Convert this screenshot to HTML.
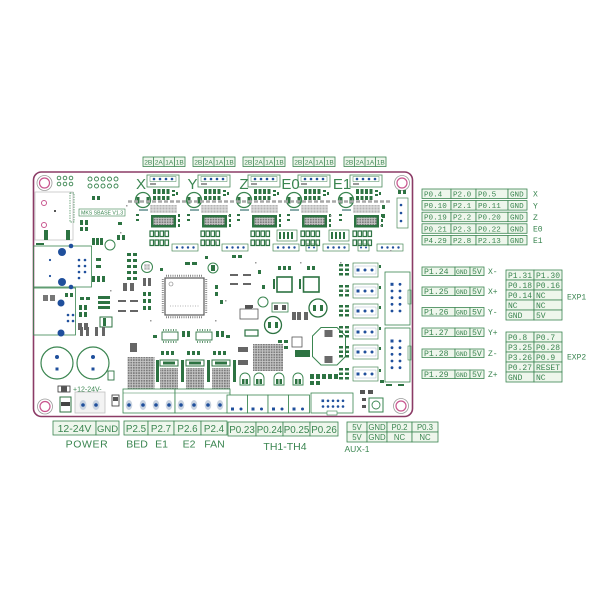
<!DOCTYPE html>
<html><head><meta charset="utf-8">
<style>
html,body{margin:0;padding:0;background:#fff;}
svg{display:block;}
.t{font-family:"Liberation Sans",sans-serif;fill:#3a8550;}
.m{font-family:"Liberation Mono",monospace;fill:#3a8550;}
.c{fill:#eef6ec;stroke:#3a8550;stroke-width:0.8;}
</style></head><body>
<svg width="600" height="600" viewBox="0 0 600 600" xmlns="http://www.w3.org/2000/svg">
<defs>
<pattern id="grid" width="2.6" height="2.6" patternUnits="userSpaceOnUse"><rect width="2.6" height="2.6" fill="#c8c8c8"/><rect x="0.4" y="0.4" width="1.7" height="1.7" fill="#7a7a7a"/></pattern>
<pattern id="lgrid" width="3" height="3" patternUnits="userSpaceOnUse"><rect width="3" height="3" fill="#e4e4e4"/><rect x="0.5" y="0.5" width="2" height="2" fill="#b5b5b5"/></pattern>
<g id="drv">
 <rect x="147" y="175" width="32" height="12" fill="none" stroke="#4a8a5a" stroke-width="0.8"/>
 <rect x="150" y="176.5" width="26" height="5" fill="none" stroke="#4a8a5a" stroke-width="0.5"/>
 <circle cx="154" cy="179" r="1.3" fill="#1f4f9c"/><circle cx="160" cy="179" r="1.3" fill="#1f4f9c"/>
 <circle cx="166" cy="179" r="1.3" fill="#1f4f9c"/><circle cx="172" cy="179" r="1.3" fill="#1f4f9c"/>
 <rect x="150" y="183" width="6" height="2" fill="#9a9a9a"/>
 <circle cx="143" cy="200" r="7.5" fill="#fff" stroke="#3a8550" stroke-width="1.3"/>
 <rect x="136.5" y="197" width="3" height="6.5" fill="#2d7342"/>
 <rect x="146.5" y="197" width="3" height="6.5" fill="#2d7342"/>
 <rect x="139" y="209" width="9" height="2" fill="#8aa"/>
 <g fill="#2d7342">
  <rect x="153" y="189" width="3" height="5"/><rect x="157.5" y="189" width="3" height="5"/><rect x="162" y="189" width="3" height="5"/><rect x="166.5" y="189" width="3" height="5"/>
  <rect x="153" y="196" width="3" height="4"/><rect x="157.5" y="196" width="3" height="4"/><rect x="162" y="196" width="3" height="4"/><rect x="166.5" y="196" width="3" height="4"/>
  <rect x="172" y="190" width="3" height="2"/><rect x="172" y="194" width="3" height="2"/><rect x="176" y="192" width="2" height="3"/>
  <rect x="178" y="214" width="2" height="3"/><rect x="178" y="219" width="2" height="3"/><rect x="178" y="224" width="2" height="3"/>
  <rect x="136" y="214" width="3" height="2"/><rect x="136" y="219" width="3" height="2"/>
 </g>
 <rect x="150" y="205" width="27" height="8" fill="url(#lgrid)"/>
 <rect x="151" y="215" width="25" height="12.5" fill="#2d7342"/>
 <rect x="153.5" y="217.5" width="20" height="7.5" fill="url(#grid)"/>
 <g fill="#fff" stroke="#2d7342" stroke-width="1.2">
  <rect x="150" y="231" width="3.5" height="5.5"/><rect x="155" y="231" width="3.5" height="5.5"/><rect x="160" y="231" width="3.5" height="5.5"/><rect x="165" y="231" width="3.5" height="5.5"/>
  <rect x="150" y="240" width="3.5" height="5.5"/><rect x="155" y="240" width="3.5" height="5.5"/><rect x="160" y="240" width="3.5" height="5.5"/><rect x="165" y="240" width="3.5" height="5.5"/>
 </g>
</g>
<g id="hdr">
 <rect x="0" y="0" width="26" height="7" fill="#fff" stroke="#4a8a5a" stroke-width="0.7"/>
 <circle cx="5" cy="3.5" r="1.2" fill="#1f4f9c"/><circle cx="10.5" cy="3.5" r="1.2" fill="#1f4f9c"/><circle cx="16" cy="3.5" r="1.2" fill="#1f4f9c"/><circle cx="21.5" cy="3.5" r="1.2" fill="#1f4f9c"/>
</g>
<g id="endc">
 <rect x="0" y="0" width="25" height="14" fill="#fff" stroke="#4a8a5a" stroke-width="0.7"/>
 <rect x="2" y="3" width="21" height="8" fill="none" stroke="#9ab" stroke-width="0.4"/>
 <rect x="3.5" y="5.5" width="3" height="3" fill="#1f4f9c"/><circle cx="12" cy="7" r="1.5" fill="#1f4f9c"/><circle cx="19" cy="7" r="1.5" fill="#1f4f9c"/>
 <g fill="#2d7342"><rect x="-14" y="1" width="4" height="2.5"/><rect x="-8" y="1" width="4" height="2.5"/><rect x="-14" y="5.5" width="4" height="2.5"/><rect x="-8" y="5.5" width="4" height="2.5"/><rect x="-14" y="10" width="4" height="2.5"/><rect x="-8" y="10" width="4" height="2.5"/></g>
 <rect x="26" y="2" width="2" height="3" fill="#2d7342"/>
</g>
<g id="capb">
 <path d="M0,12 v-7 a5,5 0 0 1 10,0 v7 z" fill="#fff" stroke="#3a8550" stroke-width="0.9"/>
 <rect x="2" y="6" width="2.5" height="5" fill="#2d7342"/><rect x="5.5" y="6" width="2.5" height="5" fill="#2d7342"/>
</g>
</defs>

<rect width="600" height="600" fill="#fff"/>

<!-- top header boxes -->
<g>
<rect class="c" x="143" y="157" width="42" height="9.5"/>
<rect class="c" x="193" y="157" width="42" height="9.5"/>
<rect class="c" x="243" y="157" width="42" height="9.5"/>
<rect class="c" x="293" y="157" width="42" height="9.5"/>
<rect class="c" x="344" y="157" width="42" height="9.5"/>
<g stroke="#3a8550" stroke-width="0.8">
<line x1="153.5" y1="157" x2="153.5" y2="166.5"/><line x1="164" y1="157" x2="164" y2="166.5"/><line x1="174.5" y1="157" x2="174.5" y2="166.5"/>
<line x1="203.5" y1="157" x2="203.5" y2="166.5"/><line x1="214" y1="157" x2="214" y2="166.5"/><line x1="224.5" y1="157" x2="224.5" y2="166.5"/>
<line x1="253.5" y1="157" x2="253.5" y2="166.5"/><line x1="264" y1="157" x2="264" y2="166.5"/><line x1="274.5" y1="157" x2="274.5" y2="166.5"/>
<line x1="303.5" y1="157" x2="303.5" y2="166.5"/><line x1="314" y1="157" x2="314" y2="166.5"/><line x1="324.5" y1="157" x2="324.5" y2="166.5"/>
<line x1="354.5" y1="157" x2="354.5" y2="166.5"/><line x1="365" y1="157" x2="365" y2="166.5"/><line x1="375.5" y1="157" x2="375.5" y2="166.5"/>
</g>
<g class="t" font-size="6.6" text-anchor="middle">
<text x="148.3" y="164.3">2B</text><text x="158.8" y="164.3">2A</text><text x="169.3" y="164.3">1A</text><text x="179.8" y="164.3">1B</text>
<text x="198.3" y="164.3">2B</text><text x="208.8" y="164.3">2A</text><text x="219.3" y="164.3">1A</text><text x="229.8" y="164.3">1B</text>
<text x="248.3" y="164.3">2B</text><text x="258.8" y="164.3">2A</text><text x="269.3" y="164.3">1A</text><text x="279.8" y="164.3">1B</text>
<text x="298.3" y="164.3">2B</text><text x="308.8" y="164.3">2A</text><text x="319.3" y="164.3">1A</text><text x="329.8" y="164.3">1B</text>
<text x="349.3" y="164.3">2B</text><text x="359.8" y="164.3">2A</text><text x="370.3" y="164.3">1A</text><text x="380.8" y="164.3">1B</text>
</g>
</g>

<!-- board -->
<rect x="33.5" y="172" width="379" height="244.5" rx="8" fill="#fff" stroke="#8b3b66" stroke-width="1.6"/>

<!-- holes -->
<g fill="none">
<circle cx="44.5" cy="183" r="7.5" stroke="#9a9a9a" stroke-width="0.8"/><circle cx="44.5" cy="183" r="5" stroke="#c8558e" stroke-width="1.2"/>
<circle cx="402" cy="183" r="7.5" stroke="#9a9a9a" stroke-width="0.8"/><circle cx="402" cy="183" r="5" stroke="#c8558e" stroke-width="1.2"/>
<circle cx="45" cy="406.5" r="7.5" stroke="#9a9a9a" stroke-width="0.8"/><circle cx="45" cy="406.5" r="5" stroke="#c8558e" stroke-width="1.2"/>
<circle cx="401" cy="406" r="7.5" stroke="#9a9a9a" stroke-width="0.8"/><circle cx="401" cy="406" r="5" stroke="#c8558e" stroke-width="1.2"/>
</g>

<!-- drivers -->
<use href="#drv"/>
<use href="#drv" transform="translate(51,0)"/>
<use href="#drv" transform="translate(101,0)"/>
<use href="#drv" transform="translate(151,0)"/>
<use href="#drv" transform="translate(203,0)"/>
<line x1="128" y1="201.5" x2="392" y2="201.5" stroke="#a8a8a8" stroke-width="2.6" stroke-dasharray="4 2"/>
<g class="t" font-size="15" text-anchor="middle" fill="#3a8a50">
<text x="141" y="189">X</text><text x="192.5" y="189">Y</text><text x="244" y="189">Z</text><text x="290.5" y="189">E0</text><text x="342" y="189">E1</text>
</g>

<!-- driver bottom headers -->
<use href="#hdr" transform="translate(172,244)"/>
<use href="#hdr" transform="translate(222,244)"/>
<use href="#hdr" transform="translate(273,244)"/>
<use href="#hdr" transform="translate(323,244)"/>
<use href="#hdr" transform="translate(377,244)"/>
<g fill="none" stroke="#4a8a5a" stroke-width="0.7">
<rect x="306" y="244" width="11" height="7"/><rect x="358" y="244" width="11" height="7"/>
<rect x="277" y="230" width="20" height="11"/><rect x="329" y="230" width="20" height="11"/>
<rect x="397" y="198" width="11" height="30"/>
</g>
<g fill="#1f4f9c"><circle cx="401" cy="205" r="1.3"/><circle cx="401" cy="213" r="1.3"/><circle cx="401" cy="221" r="1.3"/><circle cx="309" cy="247.5" r="1"/><circle cx="314" cy="247.5" r="1"/><circle cx="361" cy="247.5" r="1"/><circle cx="366" cy="247.5" r="1"/></g>
<g fill="#2d7342">
<rect x="279" y="232" width="2" height="7"/><rect x="283" y="232" width="2" height="7"/><rect x="287" y="232" width="2" height="7"/><rect x="291" y="232" width="2" height="7"/>
<rect x="331" y="232" width="2" height="7"/><rect x="335" y="232" width="2" height="7"/><rect x="339" y="232" width="2" height="7"/><rect x="343" y="232" width="2" height="7"/>
<rect x="398" y="190" width="3" height="4"/><rect x="403" y="190" width="3" height="4"/><rect x="382" y="205" width="3" height="4"/><rect x="382" y="214" width="3" height="4"/>
</g>

<!-- top-left headers -->
<g fill="none" stroke="#3a8550" stroke-width="0.9">
<circle cx="59" cy="178" r="1.8"/><circle cx="65" cy="178" r="1.8"/><circle cx="71" cy="178" r="1.8"/>
<circle cx="59" cy="184" r="1.8"/><circle cx="65" cy="184" r="1.8"/><circle cx="71" cy="184" r="1.8"/>
<circle cx="90" cy="179" r="2"/><circle cx="96.5" cy="179" r="2"/><circle cx="103" cy="179" r="2"/><circle cx="109.5" cy="179" r="2"/><circle cx="116" cy="179" r="2"/>
<circle cx="90" cy="186" r="2"/><circle cx="96.5" cy="186" r="2"/><circle cx="103" cy="186" r="2"/><circle cx="109.5" cy="186" r="2"/><circle cx="116" cy="186" r="2"/>
</g>

<!-- USB -->
<rect x="35" y="192" width="38" height="48" fill="none" stroke="#c4c4c4" stroke-width="0.8"/>
<circle cx="44" cy="203" r="2.5" fill="none" stroke="#c8558e" stroke-width="1"/>
<circle cx="44" cy="225" r="2.5" fill="none" stroke="#c8558e" stroke-width="1"/>
<rect x="54" y="210" width="2" height="2" fill="#555"/>
<rect x="70" y="193" width="4" height="29" fill="none" stroke="#3a8550" stroke-width="0.7" stroke-dasharray="1.5 1"/>
<rect x="44" y="230" width="4" height="10" fill="#2d7342"/><rect x="66" y="230" width="4" height="10" fill="#2d7342"/>
<rect x="79" y="209" width="46" height="7" fill="none" stroke="#3a8550" stroke-width="0.6"/>
<text x="81" y="214.7" class="t" font-size="5.2">MKS SBASE V1.3</text>
<g fill="#2d7342"><rect x="80" y="220" width="3" height="5"/><rect x="85" y="220" width="3" height="5"/><rect x="80" y="227" width="3" height="4"/><rect x="85" y="227" width="3" height="4"/>
<rect x="117" y="235" width="3" height="5"/><rect x="122" y="235" width="3" height="5"/><rect x="92" y="196" width="3" height="4"/><rect x="97" y="196" width="3" height="4"/><rect x="118" y="222" width="4" height="3"/></g>

<!-- SD / ethernet area -->
<rect x="33.5" y="246" width="58" height="41" fill="none" stroke="#3a8550" stroke-width="0.8"/>
<rect x="33.5" y="288" width="42" height="47" fill="none" stroke="#3a8550" stroke-width="0.8"/>
<g fill="#1f4f9c">
<circle cx="62" cy="252" r="4"/><circle cx="62" cy="282" r="4"/>
<circle cx="71" cy="246" r="2.3"/><circle cx="71" cy="287" r="2.3"/>
<circle cx="79" cy="260" r="1.3"/><circle cx="85" cy="260" r="1.3"/><circle cx="79" cy="266" r="1.3"/><circle cx="85" cy="266" r="1.3"/><circle cx="79" cy="272" r="1.3"/><circle cx="85" cy="272" r="1.3"/><circle cx="79" cy="278" r="1.3"/>
<circle cx="50" cy="260" r="1.1"/><circle cx="50" cy="276" r="1.1"/>
<circle cx="61" cy="303" r="3.5"/><circle cx="61" cy="333" r="3.5"/>
<circle cx="68" cy="315" r="1.3"/><circle cx="73" cy="315" r="1.3"/><circle cx="68" cy="321" r="1.3"/><circle cx="73" cy="321" r="1.3"/>
</g>
<g fill="#777"><rect x="43" y="295" width="5" height="6"/><rect x="50" y="295" width="5" height="6"/></g>
<g fill="#2d7342"><rect x="65" y="293" width="3" height="4"/><rect x="70" y="293" width="3" height="4"/><rect x="36" y="243" width="8" height="2"/></g>

<!-- left-middle small parts -->
<g fill="#2d7342">
<rect x="92" y="238" width="3" height="7"/><rect x="96" y="238" width="3" height="7"/><rect x="100" y="238" width="3" height="7"/>
<rect x="127" y="253" width="4" height="3"/><rect x="133" y="253" width="4" height="3"/><rect x="127" y="259" width="4" height="3"/><rect x="133" y="259" width="4" height="3"/><rect x="127" y="265" width="4" height="3"/><rect x="133" y="265" width="4" height="3"/><rect x="127" y="271" width="4" height="3"/><rect x="133" y="271" width="4" height="3"/><rect x="127" y="277" width="4" height="3"/><rect x="133" y="277" width="4" height="3"/>
<rect x="96" y="258" width="5" height="3"/><rect x="96" y="265" width="5" height="3"/>
<rect x="92" y="276" width="3" height="6"/><rect x="97" y="276" width="3" height="6"/><rect x="102" y="276" width="3" height="6"/>
<rect x="80" y="297" width="4" height="3"/><rect x="86" y="297" width="4" height="3"/>
<rect x="79" y="305" width="3" height="5"/><rect x="84" y="305" width="3" height="5"/><rect x="79" y="312" width="3" height="5"/><rect x="84" y="312" width="3" height="5"/>
<rect x="100" y="317" width="12" height="10" fill="none" stroke="#2d7342" stroke-width="1"/>
<rect x="103" y="318" width="3" height="8"/>
<rect x="185" y="262" width="5" height="3"/><rect x="192" y="262" width="5" height="3"/>
<rect x="232" y="255" width="4" height="3"/><rect x="238" y="255" width="4" height="3"/>
<rect x="160" y="268" width="3" height="3"/><rect x="205" y="256" width="3" height="3"/>
<rect x="143" y="292" width="3" height="4"/><rect x="148" y="292" width="3" height="4"/><rect x="143" y="299" width="3" height="4"/><rect x="148" y="299" width="3" height="4"/><rect x="143" y="306" width="3" height="4"/><rect x="148" y="306" width="3" height="4"/>
<rect x="98" y="296" width="12" height="3"/><rect x="98" y="301" width="12" height="3"/><rect x="98" y="306" width="12" height="3"/>
<rect x="215" y="285" width="3" height="4"/><rect x="215" y="292" width="3" height="4"/><rect x="220" y="300" width="3" height="4"/>
<rect x="258" y="270" width="3" height="4"/><rect x="262" y="285" width="3" height="4"/>
</g>
<circle cx="110" cy="245" r="5" fill="none" stroke="#3a8550" stroke-width="1"/>
<circle cx="147" cy="267" r="5.5" fill="none" stroke="#3a8550" stroke-width="1"/>
<rect x="144" y="264" width="6" height="6" fill="url(#lgrid)"/>
<circle cx="213" cy="268" r="5" fill="none" stroke="#3a8550" stroke-width="1"/>
<rect x="211" y="265" width="4" height="6" fill="#2d7342"/>
<circle cx="263" cy="302" r="5" fill="none" stroke="#3a8550" stroke-width="1"/>
<g fill="#666">
<rect x="123" y="283" width="4" height="8"/><rect x="130" y="283" width="4" height="8"/>
<rect x="143" y="278" width="3" height="8"/><rect x="148" y="278" width="3" height="8"/>
<rect x="118" y="300" width="8" height="2"/><rect x="130" y="300" width="8" height="2"/><rect x="118" y="310" width="8" height="2"/><rect x="130" y="310" width="8" height="2"/>
<rect x="230" y="274" width="8" height="2"/><rect x="243" y="274" width="8" height="2"/><rect x="230" y="283" width="8" height="2"/><rect x="243" y="283" width="8" height="2"/>
<rect x="78" y="323" width="4" height="7"/><rect x="84" y="323" width="4" height="7"/>
<rect x="80" y="327" width="3" height="9"/><rect x="86" y="327" width="3" height="9"/><rect x="95" y="327" width="3" height="9"/><rect x="102" y="327" width="3" height="9"/>
<rect x="130" y="343" width="7" height="9"/>
<rect x="238" y="347" width="10" height="5"/><rect x="238" y="360" width="10" height="5"/>
<rect x="245" y="305" width="7" height="7"/>
<rect x="292" y="312" width="4" height="8"/><rect x="297" y="312" width="4" height="8"/><rect x="304" y="312" width="4" height="8"/>
</g>

<!-- MCU -->
<rect x="165" y="278" width="39" height="37" fill="#fff" stroke="#5a5a5a" stroke-width="1.2"/>
<g stroke="#6a6a6a" stroke-width="2" stroke-dasharray="0.8 1.4">
<line x1="166" y1="275.8" x2="203" y2="275.8"/><line x1="166" y1="317.2" x2="203" y2="317.2"/>
<line x1="162.8" y1="279" x2="162.8" y2="314"/><line x1="206.2" y1="279" x2="206.2" y2="314"/>
</g>
<circle cx="171" cy="284" r="2" fill="none" stroke="#777" stroke-width="0.6"/>
<line x1="170" y1="306" x2="200" y2="306" stroke="#9a9a9a" stroke-width="0.8" stroke-dasharray="1 1.5"/>

<!-- inductors / misc middle -->
<rect x="277" y="277" width="15" height="15" fill="#fff" stroke="#2d7342" stroke-width="1.6"/>
<rect x="303.5" y="277" width="15.5" height="15" fill="#fff" stroke="#2d7342" stroke-width="1.6"/>
<g fill="#2d7342">
<rect x="278" y="266" width="3" height="4"/><rect x="283" y="266" width="3" height="4"/><rect x="288" y="266" width="3" height="4"/>
<rect x="307" y="266" width="3" height="4"/><rect x="312" y="266" width="3" height="4"/>
<rect x="273" y="279" width="2" height="10"/><rect x="299" y="279" width="2" height="10"/>
</g>
<circle cx="318" cy="308" r="9" fill="#fff" stroke="#2d7342" stroke-width="1.3"/>
<rect x="313" y="305" width="3" height="6" fill="#2d7342"/><rect x="320" y="305" width="3" height="6" fill="#2d7342"/>
<circle cx="273" cy="325" r="8.5" fill="#fff" stroke="#2d7342" stroke-width="1.3"/>
<rect x="268" y="322" width="3" height="6" fill="#2d7342"/><rect x="275" y="322" width="3" height="6" fill="#2d7342"/>
<rect x="272" y="303" width="16" height="9" fill="#fff" stroke="#3a8550" stroke-width="0.8"/>
<rect x="274" y="305" width="4" height="5" fill="#555"/><rect x="282" y="305" width="4" height="5" fill="#555"/>
<rect x="240" y="309" width="18" height="10" fill="#fff" stroke="#555" stroke-width="0.8"/>
<rect x="245" y="305" width="8" height="3" fill="#555"/>
<rect x="245" y="330" width="13" height="6" fill="#fff" stroke="#2d7342" stroke-width="1.2"/>
<rect x="292" y="337" width="10" height="10" fill="#fff" stroke="#555" stroke-width="0.8"/>
<rect x="295" y="350" width="15" height="7" fill="#2d7342"/>
<g fill="#2d7342"><rect x="278" y="340" width="4" height="3"/><rect x="278" y="346" width="4" height="3"/><rect x="284" y="340" width="4" height="3"/><rect x="284" y="346" width="4" height="3"/></g>

<!-- octagon cap -->
<polygon points="321,327.5 337,327.5 345.5,336 345.5,356.5 337,365 321,365 312.5,356.5 312.5,336" fill="#fff" stroke="#3a8550" stroke-width="1"/>
<rect x="324.5" y="330" width="8" height="7" fill="#6a6a6a"/><rect x="324.5" y="356" width="8" height="7" fill="#6a6a6a"/>

<!-- SOIC chips -->
<g>
<rect x="162" y="332" width="16" height="8" fill="#fff" stroke="#2d7342" stroke-width="0.9"/>
<rect x="196" y="332" width="16" height="8" fill="#fff" stroke="#2d7342" stroke-width="0.9"/>
<g stroke="#2d7342" stroke-width="1.4" stroke-dasharray="1 1.5">
<line x1="163" y1="330" x2="177" y2="330"/><line x1="163" y1="342" x2="177" y2="342"/>
<line x1="197" y1="330" x2="211" y2="330"/><line x1="197" y1="342" x2="211" y2="342"/>
</g>
<g fill="#2d7342">
<rect x="153" y="335" width="4" height="3"/><rect x="182" y="331" width="3" height="6"/><rect x="187" y="331" width="3" height="6"/>
<rect x="216" y="331" width="3" height="6"/><rect x="221" y="331" width="3" height="6"/><rect x="226" y="335" width="4" height="3"/>
<rect x="161" y="351" width="3" height="4"/><rect x="166" y="351" width="3" height="4"/><rect x="171" y="351" width="3" height="4"/>
<rect x="187" y="351" width="3" height="4"/><rect x="192" y="351" width="3" height="4"/><rect x="197" y="351" width="3" height="4"/>
<rect x="213" y="351" width="3" height="4"/><rect x="218" y="351" width="3" height="4"/><rect x="223" y="351" width="3" height="4"/>
<rect x="156" y="360" width="3" height="22"/><rect x="181" y="360" width="3" height="22"/><rect x="207" y="360" width="3" height="22"/><rect x="233" y="360" width="3" height="22"/>
</g>
</g>

<!-- big gray chips -->
<rect x="127.5" y="357" width="27" height="33" fill="url(#grid)"/>
<rect x="160" y="360" width="18" height="6" fill="#fff" stroke="#2d7342" stroke-width="1"/>
<rect x="163" y="361.5" width="12" height="3" fill="#2d7342"/>
<rect x="160" y="368" width="18" height="22" fill="url(#grid)"/>
<rect x="186" y="360" width="18" height="6" fill="#fff" stroke="#2d7342" stroke-width="1"/>
<rect x="189" y="361.5" width="12" height="3" fill="#2d7342"/>
<rect x="186" y="368" width="18" height="22" fill="url(#grid)"/>
<rect x="212" y="360" width="18" height="6" fill="#fff" stroke="#2d7342" stroke-width="1"/>
<rect x="215" y="361.5" width="12" height="3" fill="#2d7342"/>
<rect x="212" y="368" width="18" height="22" fill="url(#grid)"/>
<rect x="253" y="344" width="30" height="27" fill="url(#grid)"/>

<!-- big caps bottom left -->
<circle cx="57" cy="363" r="16" fill="#fff" stroke="#3a8550" stroke-width="1.2"/>
<circle cx="93" cy="363" r="16" fill="#fff" stroke="#3a8550" stroke-width="1.2"/>
<g fill="#1f4f9c"><circle cx="57" cy="357" r="2"/><rect x="55.5" y="367.5" width="3" height="3"/><circle cx="93" cy="357" r="2"/><rect x="91.5" y="367.5" width="3" height="3"/></g>
<text x="73" y="391.5" class="t" font-size="7">+12-24V-</text>
<rect x="58" y="386" width="12" height="6" fill="#fff" stroke="#333" stroke-width="0.8"/><rect x="61" y="386.5" width="6" height="5" fill="#555"/>
<rect x="60" y="397" width="11" height="15" fill="#fff" stroke="#2d7342" stroke-width="1"/><rect x="61" y="402" width="9" height="4" fill="#444"/>
<rect x="108" y="371" width="6" height="9" fill="#fff" stroke="#2d7342" stroke-width="0.9"/>
<rect x="112" y="395" width="7" height="11" fill="#fff" stroke="#333" stroke-width="0.8"/><rect x="113" y="397" width="5" height="4" fill="#555"/>

<!-- power connector -->
<rect x="75" y="392" width="30" height="21" fill="#f3f3f3" stroke="#c0c0c0" stroke-width="0.8"/>
<ellipse cx="83" cy="405" rx="3.5" ry="5" fill="#c9d3e0"/><circle cx="83" cy="405" r="1.8" fill="#1f4f9c"/>
<ellipse cx="96" cy="405" rx="3.5" ry="5" fill="#c9d3e0"/><circle cx="96" cy="405" r="1.8" fill="#1f4f9c"/>

<!-- heater/fan connectors -->
<rect x="123" y="389" width="52" height="24" fill="#fff" stroke="#3a8550" stroke-width="0.8"/>
<rect x="175" y="389" width="55" height="24" fill="#fff" stroke="#3a8550" stroke-width="0.8"/>
<line x1="123" y1="393" x2="230" y2="393" stroke="#3a8550" stroke-width="0.5"/>
<g fill="#c9d3e0">
<ellipse cx="129" cy="405" rx="3.3" ry="5"/><ellipse cx="143" cy="405" rx="3.3" ry="5"/><ellipse cx="156" cy="405" rx="3.3" ry="5"/><ellipse cx="169" cy="405" rx="3.3" ry="5"/>
<ellipse cx="181" cy="405" rx="3.3" ry="5"/><ellipse cx="194" cy="405" rx="3.3" ry="5"/><ellipse cx="208" cy="405" rx="3.3" ry="5"/><ellipse cx="220" cy="405" rx="3.3" ry="5"/>
</g>
<g fill="#1f4f9c">
<circle cx="129" cy="405" r="1.8"/><circle cx="143" cy="405" r="1.8"/><circle cx="156" cy="405" r="1.8"/><circle cx="169" cy="405" r="1.8"/>
<circle cx="181" cy="405" r="1.8"/><circle cx="194" cy="405" r="1.8"/><circle cx="208" cy="405" r="1.8"/><circle cx="220" cy="405" r="1.8"/>
</g>

<!-- thermistor caps & connectors -->
<use href="#capb" transform="translate(240,373)"/>
<use href="#capb" transform="translate(254,373)"/>
<use href="#capb" transform="translate(274,373)"/>
<use href="#capb" transform="translate(293,373)"/>
<g fill="#fff" stroke="#3a8550" stroke-width="0.8">
<rect x="227" y="395" width="20.5" height="18"/><rect x="247.5" y="395" width="20.5" height="18"/><rect x="268" y="395" width="20.5" height="18"/><rect x="288.5" y="395" width="21" height="18"/>
</g>
<g fill="#1f4f9c">
<rect x="231" y="407.5" width="3" height="3"/><circle cx="241" cy="409" r="1.5"/>
<rect x="251.5" y="407.5" width="3" height="3"/><circle cx="261.5" cy="409" r="1.5"/>
<rect x="272" y="407.5" width="3" height="3"/><circle cx="282" cy="409" r="1.5"/>
<rect x="292.5" y="407.5" width="3" height="3"/><circle cx="302.5" cy="409" r="1.5"/>
</g>
<g fill="#2d7342"><rect x="310" y="374" width="4" height="5"/><rect x="316" y="374" width="4" height="5"/><rect x="322" y="374" width="4" height="5"/><rect x="328" y="374" width="4" height="5"/><rect x="334" y="374" width="4" height="5"/><rect x="310" y="381" width="4" height="4"/><rect x="316" y="381" width="4" height="4"/></g>

<!-- AUX connector & reset -->
<rect x="311" y="393" width="42" height="20" fill="#fff" stroke="#3a8550" stroke-width="0.8"/>
<rect x="327" y="411" width="10" height="4" fill="#fff" stroke="#3a8550" stroke-width="0.6"/>
<g fill="#1f4f9c">
<rect x="321.5" y="399.5" width="2.6" height="2.6"/><circle cx="328" cy="400.8" r="1.3"/><circle cx="333" cy="400.8" r="1.3"/><circle cx="338" cy="400.8" r="1.3"/><circle cx="343" cy="400.8" r="1.3"/>
<circle cx="323" cy="406.5" r="1.3"/><circle cx="328" cy="406.5" r="1.3"/><circle cx="333" cy="406.5" r="1.3"/><circle cx="338" cy="406.5" r="1.3"/><circle cx="343" cy="406.5" r="1.3"/>
</g>
<rect x="369" y="398" width="14" height="14" fill="#fff" stroke="#3a8550" stroke-width="1"/>
<circle cx="376" cy="405" r="4" fill="none" stroke="#3a8550" stroke-width="0.9"/>
<g fill="#555"><rect x="362" y="398" width="4" height="3"/><rect x="362" y="405" width="4" height="3"/><rect x="360" y="390" width="5" height="4"/><rect x="368" y="390" width="5" height="4"/></g>

<!-- endstop connectors -->
<use href="#endc" transform="translate(353,263)"/>
<use href="#endc" transform="translate(353,284)"/>
<use href="#endc" transform="translate(353,304)"/>
<use href="#endc" transform="translate(353,325)"/>
<use href="#endc" transform="translate(353,345)"/>
<use href="#endc" transform="translate(353,367)"/>

<!-- EXP connectors -->
<rect x="385" y="272" width="25" height="53" fill="#fff" stroke="#3a8550" stroke-width="0.8"/>
<rect x="385" y="328" width="25" height="54" fill="#fff" stroke="#3a8550" stroke-width="0.8"/>
<rect x="408" y="290" width="3" height="14" fill="none" stroke="#3a8550" stroke-width="0.6"/>
<rect x="408" y="346" width="3" height="14" fill="none" stroke="#3a8550" stroke-width="0.6"/>
<g fill="#1f4f9c">
<rect x="390.5" y="282.8" width="3" height="3"/><circle cx="400" cy="284.3" r="1.4"/>
<circle cx="392" cy="291" r="1.4"/><circle cx="400" cy="291" r="1.4"/><circle cx="392" cy="297.7" r="1.4"/><circle cx="400" cy="297.7" r="1.4"/>
<circle cx="392" cy="304.3" r="1.4"/><circle cx="400" cy="304.3" r="1.4"/><circle cx="392" cy="311" r="1.4"/><circle cx="400" cy="311" r="1.4"/>
<rect x="390.5" y="339.5" width="3" height="3"/><circle cx="400" cy="341" r="1.4"/>
<circle cx="392" cy="347.7" r="1.4"/><circle cx="400" cy="347.7" r="1.4"/><circle cx="392" cy="354.3" r="1.4"/><circle cx="400" cy="354.3" r="1.4"/>
<circle cx="392" cy="361" r="1.4"/><circle cx="400" cy="361" r="1.4"/><circle cx="392" cy="367.7" r="1.4"/><circle cx="400" cy="367.7" r="1.4"/>
</g>
<g fill="#2d7342"><rect x="380" y="380" width="4" height="3"/><rect x="386" y="384" width="6" height="2"/><rect x="398" y="384" width="6" height="2"/></g>

<!-- scattered tiny specks -->
<g fill="#9a9a9a">
<rect x="120" y="232" width="1.5" height="1.5"/><rect x="215" y="240" width="1.5" height="1.5"/><rect x="255" y="262" width="1.5" height="1.5"/>
<rect x="300" y="262" width="1.5" height="1.5"/><rect x="340" y="262" width="1.5" height="1.5"/><rect x="225" y="300" width="1.5" height="1.5"/>
<rect x="215" y="320" width="1.5" height="1.5"/><rect x="110" y="290" width="1.5" height="1.5"/><rect x="150" y="320" width="1.5" height="1.5"/>
<rect x="390" y="250" width="1.5" height="1.5"/><rect x="380" y="225" width="1.5" height="1.5"/><rect x="345" y="290" width="1.5" height="1.5"/>
<rect x="228" y="215" width="1.5" height="1.5"/><rect x="330" y="215" width="1.5" height="1.5"/><rect x="126" y="205" width="1.5" height="1.5"/>
</g>

<!-- right pin table -->
<g>
<rect class="c" x="422" y="189" width="29" height="9.5"/><rect class="c" x="451" y="189" width="25" height="9.5"/><rect class="c" x="476" y="189" width="32" height="9.5"/><rect class="c" x="508" y="189" width="19" height="9.5"/>
<rect class="c" x="422" y="200.6" width="29" height="9.5"/><rect class="c" x="451" y="200.6" width="25" height="9.5"/><rect class="c" x="476" y="200.6" width="32" height="9.5"/><rect class="c" x="508" y="200.6" width="19" height="9.5"/>
<rect class="c" x="422" y="212.2" width="29" height="9.5"/><rect class="c" x="451" y="212.2" width="25" height="9.5"/><rect class="c" x="476" y="212.2" width="32" height="9.5"/><rect class="c" x="508" y="212.2" width="19" height="9.5"/>
<rect class="c" x="422" y="223.8" width="29" height="9.5"/><rect class="c" x="451" y="223.8" width="25" height="9.5"/><rect class="c" x="476" y="223.8" width="32" height="9.5"/><rect class="c" x="508" y="223.8" width="19" height="9.5"/>
<rect class="c" x="422" y="235.4" width="29" height="9.5"/><rect class="c" x="451" y="235.4" width="25" height="9.5"/><rect class="c" x="476" y="235.4" width="32" height="9.5"/><rect class="c" x="508" y="235.4" width="19" height="9.5"/>
<g class="m" font-size="7.6">
<text x="424" y="196.5">P0.4</text><text x="453" y="196.5">P2.0</text><text x="478" y="196.5">P0.5</text><text x="510" y="196.5">GND</text>
<text x="424" y="208.1">P0.10</text><text x="453" y="208.1">P2.1</text><text x="478" y="208.1">P0.11</text><text x="510" y="208.1">GND</text>
<text x="424" y="219.7">P0.19</text><text x="453" y="219.7">P2.2</text><text x="478" y="219.7">P0.20</text><text x="510" y="219.7">GND</text>
<text x="424" y="231.3">P0.21</text><text x="453" y="231.3">P2.3</text><text x="478" y="231.3">P0.22</text><text x="510" y="231.3">GND</text>
<text x="424" y="242.9">P4.29</text><text x="453" y="242.9">P2.8</text><text x="478" y="242.9">P2.13</text><text x="510" y="242.9">GND</text>
</g>
<g class="m" font-size="8">
<text x="533" y="196.7">X</text><text x="533" y="208.3">Y</text><text x="533" y="219.9">Z</text><text x="533" y="231.5">E0</text><text x="533" y="243.1">E1</text>
</g>
</g>

<!-- endstop table -->
<g>
<rect class="c" x="422" y="267" width="33" height="8.5"/><rect class="c" x="455" y="267" width="15" height="8.5"/><rect class="c" x="470" y="267" width="14" height="8.5"/>
<rect class="c" x="422" y="287" width="33" height="8.5"/><rect class="c" x="455" y="287" width="15" height="8.5"/><rect class="c" x="470" y="287" width="14" height="8.5"/>
<rect class="c" x="422" y="307.5" width="33" height="8.5"/><rect class="c" x="455" y="307.5" width="15" height="8.5"/><rect class="c" x="470" y="307.5" width="14" height="8.5"/>
<rect class="c" x="422" y="328" width="33" height="8.5"/><rect class="c" x="455" y="328" width="15" height="8.5"/><rect class="c" x="470" y="328" width="14" height="8.5"/>
<rect class="c" x="422" y="349" width="33" height="8.5"/><rect class="c" x="455" y="349" width="15" height="8.5"/><rect class="c" x="470" y="349" width="14" height="8.5"/>
<rect class="c" x="422" y="370" width="33" height="8.5"/><rect class="c" x="455" y="370" width="15" height="8.5"/><rect class="c" x="470" y="370" width="14" height="8.5"/>
<g class="m" font-size="8.2">
<text x="424" y="274">P1.24</text><text x="456" y="274" font-size="6.4">GND</text><text x="472" y="274">5V</text>
<text x="424" y="294">P1.25</text><text x="456" y="294" font-size="6.4">GND</text><text x="472" y="294">5V</text>
<text x="424" y="314.5">P1.26</text><text x="456" y="314.5" font-size="6.4">GND</text><text x="472" y="314.5">5V</text>
<text x="424" y="335">P1.27</text><text x="456" y="335" font-size="6.4">GND</text><text x="472" y="335">5V</text>
<text x="424" y="356">P1.28</text><text x="456" y="356" font-size="6.4">GND</text><text x="472" y="356">5V</text>
<text x="424" y="377">P1.29</text><text x="456" y="377" font-size="6.4">GND</text><text x="472" y="377">5V</text>
</g>
<g class="m" font-size="8">
<text x="488" y="274">X-</text><text x="488" y="294">X+</text><text x="488" y="314.5">Y-</text><text x="488" y="335">Y+</text><text x="488" y="356">Z-</text><text x="488" y="377">Z+</text>
</g>
</g>

<!-- EXP1 / EXP2 -->
<g>
<rect class="c" x="506" y="270" width="28" height="10"/><rect class="c" x="534" y="270" width="28" height="10"/>
<rect class="c" x="506" y="280" width="28" height="10"/><rect class="c" x="534" y="280" width="28" height="10"/>
<rect class="c" x="506" y="290" width="28" height="10"/><rect class="c" x="534" y="290" width="28" height="10"/>
<rect class="c" x="506" y="300" width="28" height="10"/><rect class="c" x="534" y="300" width="28" height="10"/>
<rect class="c" x="506" y="310" width="28" height="10"/><rect class="c" x="534" y="310" width="28" height="10"/>
<rect class="c" x="506" y="332" width="28" height="10"/><rect class="c" x="534" y="332" width="28" height="10"/>
<rect class="c" x="506" y="342" width="28" height="10"/><rect class="c" x="534" y="342" width="28" height="10"/>
<rect class="c" x="506" y="352" width="28" height="10"/><rect class="c" x="534" y="352" width="28" height="10"/>
<rect class="c" x="506" y="362" width="28" height="10"/><rect class="c" x="534" y="362" width="28" height="10"/>
<rect class="c" x="506" y="372" width="28" height="10"/><rect class="c" x="534" y="372" width="28" height="10"/>
<g class="m" font-size="8">
<text x="508" y="277.8">P1.31</text><text x="536" y="277.8">P1.30</text>
<text x="508" y="287.8">P0.18</text><text x="536" y="287.8">P0.16</text>
<text x="508" y="297.8">P0.14</text><text x="536" y="297.8">NC</text>
<text x="508" y="307.8">NC</text><text x="536" y="307.8">NC</text>
<text x="508" y="317.8">GND</text><text x="536" y="317.8">5V</text>
<text x="508" y="339.8">P0.8</text><text x="536" y="339.8">P0.7</text>
<text x="508" y="349.8">P3.25</text><text x="536" y="349.8">P0.28</text>
<text x="508" y="359.8">P3.26</text><text x="536" y="359.8">P0.9</text>
<text x="508" y="369.8">P0.27</text><text x="536" y="369.8">RESET</text>
<text x="508" y="379.8">GND</text><text x="536" y="379.8">NC</text>
<text x="567" y="299.5">EXP1</text><text x="567" y="359.5">EXP2</text>
</g>
</g>

<!-- bottom tables -->
<g>
<rect class="c" x="53" y="421" width="43" height="14"/><rect class="c" x="96" y="421" width="23" height="14"/>
<rect class="c" x="124" y="421" width="24" height="14"/><rect class="c" x="148" y="421" width="26" height="14"/><rect class="c" x="174" y="421" width="27" height="14"/><rect class="c" x="201" y="421" width="26" height="14"/>
<rect class="c" x="228" y="422" width="28" height="14"/><rect class="c" x="256" y="422" width="27" height="14"/><rect class="c" x="283" y="422" width="27" height="14"/><rect class="c" x="310" y="422" width="28" height="14"/>
<rect class="c" x="347" y="422" width="20" height="10"/><rect class="c" x="367" y="422" width="20" height="10"/><rect class="c" x="387" y="422" width="25" height="10"/><rect class="c" x="412" y="422" width="26" height="10"/>
<rect class="c" x="347" y="432" width="20" height="10"/><rect class="c" x="367" y="432" width="20" height="10"/><rect class="c" x="387" y="432" width="25" height="10"/><rect class="c" x="412" y="432" width="26" height="10"/>
<g class="t" font-size="10.5" text-anchor="middle">
<text x="74.5" y="432">12-24V</text><text x="107.5" y="432" font-size="9.5">GND</text>
</g>
<g class="t" font-size="9.8" text-anchor="middle">
<text x="136" y="432">P2.5</text><text x="161" y="432">P2.7</text><text x="187.5" y="432">P2.6</text><text x="214" y="432">P2.4</text>
<text x="242" y="433">P0.23</text><text x="269.5" y="433">P0.24</text><text x="296.5" y="433">P0.25</text><text x="324" y="433">P0.26</text>
</g>
<g class="t" font-size="7.8" text-anchor="middle">
<text x="357" y="429.8">5V</text><text x="377" y="429.8">GND</text><text x="399.5" y="429.8">P0.2</text><text x="425" y="429.8">P0.3</text>
<text x="357" y="439.8">5V</text><text x="377" y="439.8">GND</text><text x="399.5" y="439.8">NC</text><text x="425" y="439.8">NC</text>
</g>
<g class="t" font-size="10.5" text-anchor="middle">
<text x="87" y="447.5" letter-spacing="0.6">POWER</text>
<text x="137" y="447.5">BED</text><text x="161.5" y="447.5">E1</text><text x="189" y="447.5">E2</text><text x="214.5" y="447.5">FAN</text>
<text x="285" y="450">TH1-TH4</text>
</g>
<text x="357" y="452" class="t" font-size="8.5" text-anchor="middle">AUX-1</text>
</g>
</svg>
</body></html>
